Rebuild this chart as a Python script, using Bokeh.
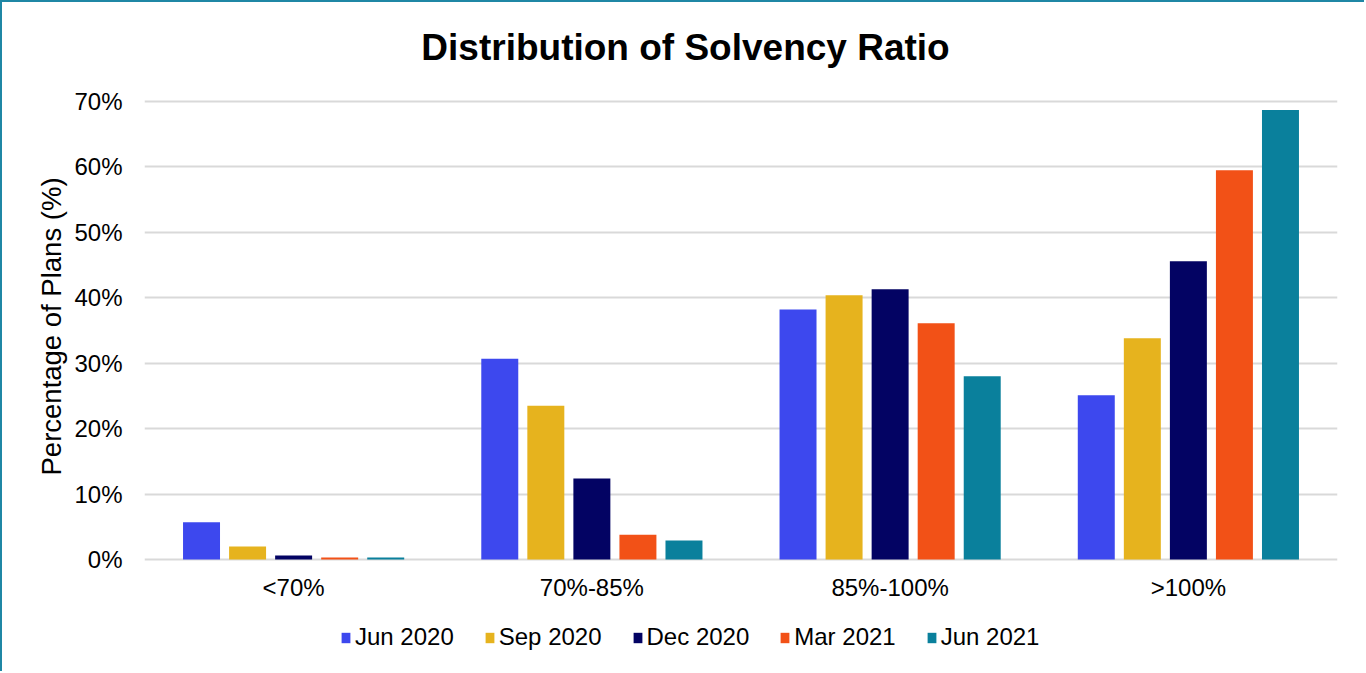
from bokeh.plotting import figure
from bokeh.models import (ColumnDataSource, FactorRange, Range1d, Legend, LegendItem,
                          FixedTicker, PrintfTickFormatter, Title)
from bokeh.core.properties import value
from bokeh.transform import dodge
from bokeh.embed import file_html
from bokeh.resources import INLINE

chart_title = "Distribution of Solvency Ratio"
y_label = "Percentage of Plans (%)"
categories = ["<70%", "70%-85%", "85%-100%", ">100%"]
series_names = ["Jun 2020", "Sep 2020", "Dec 2020", "Mar 2021", "Jun 2021"]
jun_2020 = [5.7, 30.7, 38.2, 25.1]
sep_2020 = [2.0, 23.5, 40.4, 33.8]
dec_2020 = [0.6, 12.4, 41.3, 45.6]
mar_2021 = [0.3, 3.8, 36.1, 59.5]
jun_2021 = [0.3, 2.9, 28.0, 68.7]
y_ticks = [0, 10, 20, 30, 40, 50, 60, 70]
colors = ["#3D48EE", "#E6B31E", "#030363", "#F25117", "#0A809C"]

series_values = [jun_2020, sep_2020, dec_2020, mar_2021, jun_2021]
data = {"cat": categories}
for i, vals in enumerate(series_values):
    data[f"s{i}"] = vals
source = ColumnDataSource(data)

FONT = "Liberation Sans"

p = figure(width=1364, height=671, output_backend="svg", toolbar_location=None,
           x_range=FactorRange(factors=categories, range_padding=0),
           y_range=Range1d(-17.42, 85.13),
           x_axis_location=None,
           min_border_left=142, min_border_right=29, min_border_top=0,
           min_border_bottom=0)

step = 0.1544
width = 0.124
renderers = []
for i, name in enumerate(series_names):
    r = p.vbar(x=dodge("cat", (i - 2) * step, range=p.x_range), top=f"s{i}",
               width=width, source=source, fill_color=colors[i], line_color=None)
    renderers.append(r)

# chart title (drawn inside the tall frame, above the 70% line)
p.text(x=[1.814], y=[78.25], text=[chart_title], text_align="center",
       text_baseline="middle", text_font=value(FONT), text_font_size="37px",
       text_font_style="bold", text_color="#000000")

# category labels under the bars
p.text(x="cat", y=-4.3, text="cat", source=source, text_align="center",
       text_baseline="middle", text_font=value(FONT), text_font_size="24px",
       text_color="#000000")

p.outline_line_color = None
for g in p.grid:
    if g.dimension == 0:
        g.visible = False
        g.grid_line_color = None
p.ygrid.grid_line_color = "#d9d9d9"
p.ygrid.grid_line_width = 2

p.yaxis.ticker = FixedTicker(ticks=y_ticks)
p.yaxis.formatter = PrintfTickFormatter(format="%d%%")
ax = p.yaxis[0]
ax.axis_line_color = None
ax.major_tick_line_color = None
ax.minor_tick_line_color = None
ax.major_tick_out = 0
ax.major_tick_in = 0
ax.minor_tick_out = 0
ax.major_label_text_font = FONT
ax.major_label_text_font_size = "24px"
ax.major_label_text_color = "#000000"
ax.major_label_standoff = 22

ytitle = Title(text=y_label, align="left", offset=198,
               text_font=FONT, text_font_size="27.5px", text_font_style="normal",
               text_color="#000000", standoff=9)
p.add_layout(ytitle, "left")

legend = Legend(items=[LegendItem(label=n, renderers=[r]) for n, r in zip(series_names, renderers)],
                orientation="horizontal", location=(196, 22),
                label_text_font=FONT, label_text_font_size="24px", label_text_color="#000000",
                glyph_width=11, glyph_height=13, label_standoff=4, spacing=30,
                padding=0, margin=0, border_line_color=None, background_fill_alpha=0)
p.add_layout(legend, "center")

p.styles = {"border-left": "2px solid #1f87a5", "border-top": "2px solid #1f87a5"}

open("out.html", "w").write(file_html(p, INLINE))
